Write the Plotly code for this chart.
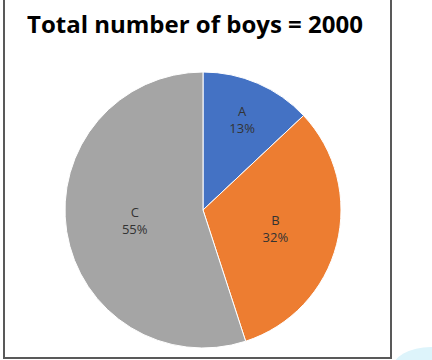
import plotly.graph_objects as go

labels = ["A", "B", "C"]
values = [13, 32, 55]
colors = ["#4472C4", "#ED7D31", "#A5A5A5"]
title_text = "Total number of boys = 2000"

W, H = 432, 360
cx, cy, r = 203, 210, 138

fig = go.Figure(go.Pie(
    labels=labels,
    values=values,
    sort=False,
    direction="clockwise",
    rotation=0,
    marker=dict(colors=colors, line=dict(color="white", width=1)),
    textinfo="label+percent",
    textposition="inside",
    insidetextorientation="horizontal",
    textfont=dict(family="Open Sans", size=13, color="#333333"),
    showlegend=False,
    hoverinfo="label+percent",
    domain=dict(x=[(cx - r) / W, (cx + r) / W], y=[(H - cy - r) / H, (H - cy + r) / H]),
))

fig.update_layout(
    width=W, height=H,
    margin=dict(l=0, r=0, t=0, b=0),
    paper_bgcolor="white",
    plot_bgcolor="white",
    showlegend=False,
    annotations=[dict(
        text="<b>" + title_text + "</b>",
        x=195 / W, y=1 - 24 / H, xref="paper", yref="paper",
        xanchor="center", yanchor="middle", showarrow=False,
        font=dict(family="Open Sans", size=24, color="#000000"),
    )],
    shapes=[
        dict(type="circle", xref="paper", yref="paper",
             x0=392 / W, x1=470 / W, y0=1 - 392 / H, y1=1 - 347 / H,
             fillcolor="#DDF4FB", line=dict(width=0), layer="below"),
        dict(type="rect", xref="paper", yref="paper",
             x0=4 / W, x1=391 / W, y0=1 - 358 / H, y1=1 + 10 / H,
             line=dict(color="#595959", width=2), fillcolor="rgba(0,0,0,0)"),
    ],
)

fig.write_html(
    "out.html",
    config={"displayModeBar": False},
    post_script="document.body.style.margin='0';document.body.style.padding='0';document.body.style.overflow='hidden';",
)
